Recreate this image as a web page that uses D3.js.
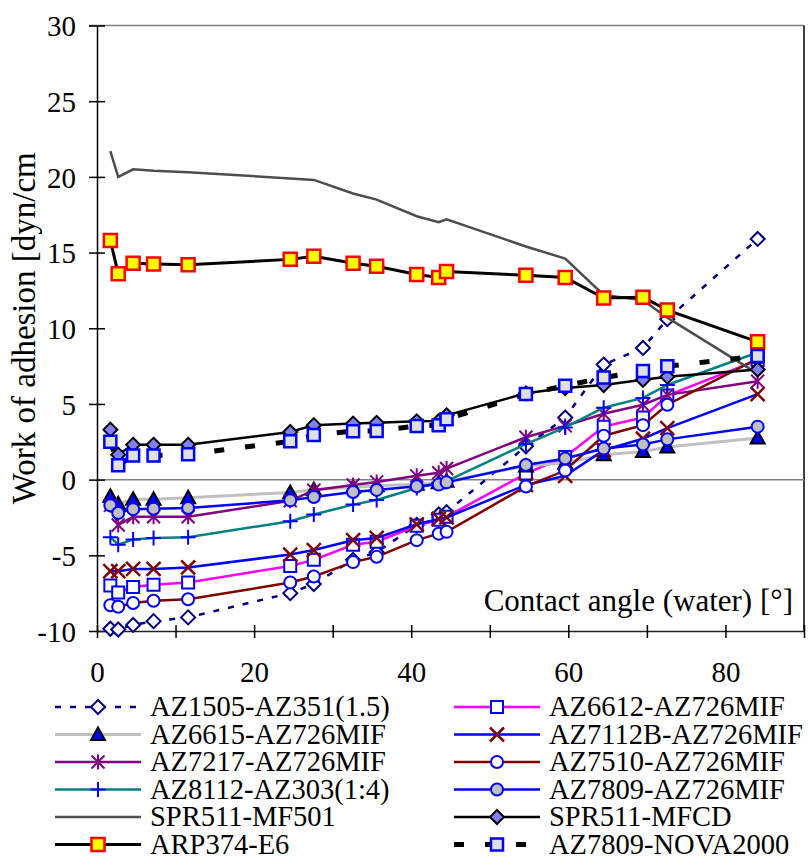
<!DOCTYPE html>
<html>
<head>
<meta charset="utf-8">
<script src="https://cdn.jsdelivr.net/npm/d3@7"></script>
<style>
body { margin: 0; background: #fff; }
svg text { font-family: "Liberation Serif", "Times New Roman", serif; fill: #000; }
</style>
</head>
<body>
<svg id="chart" width="808" height="861"></svg>
<script>
// contact angle (water) [deg], same for every series
var xValues = [1.7, 2.7, 4.6, 7.2, 11.6, 24.6, 27.6, 32.6, 35.6, 40.7, 43.5, 44.5, 54.6, 59.6, 64.5, 69.5, 72.6, 84.1];

// work of adhesion [dyn/cm]
var az1505   = [-9.85, -9.9, -9.6, -9.35, -9.1, -7.5, -6.9, -5.3, -4.8, -3.0, -2.3, -2.15, 2.2, 4.1, 7.6, 8.7, 10.6, 15.9];
var az6612   = [-7.0, -7.45, -7.1, -6.95, -6.8, -5.7, -5.3, -4.3, -4.1, -3.05, -2.65, -2.45, 0.4, 1.5, 3.5, 4.1, 5.55, 7.9];
var az6615   = [-1.1, -1.6, -1.3, -1.3, -1.2, -0.85, -0.65, -0.5, -0.4, -0.3, -0.2, -0.1, 0.9, 1.1, 1.65, 1.85, 2.15, 2.75];
var az7112b  = [-6.05, -6.05, -5.9, -5.9, -5.8, -4.95, -4.65, -4.0, -3.85, -2.95, -2.6, -2.5, -0.35, 0.25, 1.95, 2.7, 3.4, 5.65];
var az7217   = [-1.7, -3.0, -2.45, -2.45, -2.45, -1.4, -0.7, -0.35, -0.15, 0.25, 0.45, 0.73, 2.8, 3.55, 4.35, 4.95, 5.6, 6.5];
var az7510   = [-8.3, -8.4, -8.15, -8.0, -7.9, -6.8, -6.4, -5.45, -5.1, -4.0, -3.57, -3.45, -0.45, 0.6, 2.9, 3.6, 4.95, 8.0];
var az8112   = [-3.8, -4.3, -3.95, -3.85, -3.8, -2.75, -2.3, -1.65, -1.35, -0.55, -0.2, -0.1, 2.35, 3.45, 4.75, 5.4, 6.25, 8.4];
var az7809   = [-1.7, -2.2, -1.95, -1.92, -1.88, -1.37, -1.15, -0.82, -0.68, -0.44, -0.33, -0.18, 0.97, 1.39, 2.05, 2.32, 2.66, 3.5];
var spr501   = [21.7, 20.0, 20.5, 20.4, 20.3, 19.9, 19.8, 18.9, 18.5, 17.4, 17.0, 17.2, 15.4, 14.6, 12.2, 11.85, 10.7, 7.0];
var sprMfcd  = [3.3, 1.65, 2.3, 2.3, 2.3, 3.15, 3.6, 3.7, 3.75, 3.85, 3.87, 4.25, 5.7, 6.05, 6.25, 6.6, 6.8, 7.27];
var arp374   = [15.8, 13.6, 14.3, 14.25, 14.2, 14.55, 14.75, 14.3, 14.1, 13.55, 13.35, 13.75, 13.5, 13.35, 12.0, 12.05, 11.2, 9.1];
var nova2000 = [2.5, 0.95, 1.6, 1.6, 1.67, 2.53, 2.95, 3.2, 3.22, 3.54, 3.6, 3.99, 5.65, 6.2, 6.74, 7.18, 7.49, 8.16];

var seriesNames = ["AZ1505-AZ351(1.5)", "AZ6612-AZ726MIF", "AZ6615-AZ726MIF", "AZ7112B-AZ726MIF",
                   "AZ7217-AZ726MIF", "AZ7510-AZ726MIF", "AZ8112-AZ303(1:4)", "AZ7809-AZ726MIF",
                   "SPR511-MF501", "SPR511-MFCD", "ARP374-E6", "AZ7809-NOVA2000"];
var seriesValues = [az1505, az6612, az6615, az7112b, az7217, az7510, az8112, az7809, spr501, sprMfcd, arp374, nova2000];

var xTickValues = [0, 10, 20, 30, 40, 50, 60, 70, 80, 90];
var xLabelValues = [0, 20, 40, 60, 80];
var yTickValues = [-10, -5, 0, 5, 10, 15, 20, 25, 30];

// look of every series, same order as the names
var looks = [
    {line: "#000080", width: 2.5, dash: "6,9", marker: "diamond", fill: "#fff", stroke: "#000080", sw: 2},
    {line: "#FF00FF", width: 2.5, marker: "square", fill: "#fff", stroke: "#0000FF", sw: 2},
    {line: "#C0C0C0", width: 3, marker: "triangle", fill: "#0000FF", stroke: "#000", sw: 2},
    {line: "#0000FF", width: 2.5, marker: "x", fill: "none", stroke: "#800000", sw: 2.5},
    {line: "#800080", width: 2.5, marker: "asterisk", fill: "none", stroke: "#800080", sw: 2},
    {line: "#800000", width: 2.5, marker: "circle", fill: "#fff", stroke: "#0000FF", sw: 2},
    {line: "#008080", width: 2.5, marker: "plus", fill: "none", stroke: "#0000FF", sw: 2},
    {line: "#0000FF", width: 2.5, marker: "circle", fill: "#C0C0C0", stroke: "#0000FF", sw: 2},
    {line: "#4D4D4D", width: 2.5, marker: null},
    {line: "#000000", width: 2.5, marker: "diamond", fill: "#8080FF", stroke: "#000", sw: 2},
    {line: "#000000", width: 3, marker: "bigsquare", fill: "#FFFF00", stroke: "#FF0000", sw: 2.5},
    {line: "#000000", width: 5, dash: "10,21", marker: "square", fill: "#E0E0E0", stroke: "#0000FF", sw: 2.5}
];

var markerPaths = {
    diamond: "M0,-7L7,0L0,7L-7,0Z",
    square: "M-6,-6H6V6H-6Z",
    bigsquare: "M-6.5,-6.5H6.5V6.5H-6.5Z",
    triangle: "M0,-7L7,5.5L-7,5.5Z",
    x: "M-7,-7L7,7M-7,7L7,-7",
    asterisk: "M0,-7.5V7.5M-6.5,-6.5L6.5,6.5M-6.5,6.5L6.5,-6.5",
    plus: "M-7.5,0H7.5M0,-7.5V7.5",
    circle: "M6,0A6,6 0 1,1 -6,0A6,6 0 1,1 6,0Z"
};

var svg = d3.select("#chart");

var x = d3.scaleLinear().domain([0, 90]).range([97, 804]);
var y = d3.scaleLinear().domain([-10, 30]).range([631, 25.5]);

// frame: top and zero line grey, right border black
svg.append("line").attr("x1", 89).attr("x2", 804).attr("y1", y(30)).attr("y2", y(30))
    .attr("stroke", "#808080").attr("stroke-width", 1.5);
svg.append("line").attr("x1", x(90)).attr("x2", x(90)).attr("y1", y(30)).attr("y2", y(-10))
    .attr("stroke", "#000").attr("stroke-width", 1.5);
svg.append("line").attr("x1", x(0)).attr("x2", x(90)).attr("y1", y(0)).attr("y2", y(0))
    .attr("stroke", "#808080").attr("stroke-width", 1.5);

// y axis (plain hyphen for negatives, like the original)
var yAxis = svg.append("g")
    .attr("transform", "translate(" + x(0) + ",0)")
    .call(d3.axisLeft(y).tickValues(yTickValues).tickSize(8).tickSizeOuter(0).tickPadding(0)
        .tickFormat(function (d) { return String(d); }));
yAxis.attr("font-family", null).attr("font-size", null);
yAxis.select(".domain").attr("stroke", "#000").attr("stroke-width", 1.5);
yAxis.selectAll(".tick line").attr("x1", 8).attr("stroke-width", 1.5);
yAxis.selectAll(".tick text").attr("x", -21).attr("dy", "0.35em").style("font-size", "29px");

// x axis
var xAxis = svg.append("g")
    .attr("transform", "translate(0," + y(-10) + ")")
    .call(d3.axisBottom(x).tickValues(xTickValues).tickSize(7).tickSizeOuter(0)
        .tickFormat(function (d) { return xLabelValues.indexOf(d) >= 0 ? String(d) : ""; }));
xAxis.attr("font-family", null).attr("font-size", null);
xAxis.select(".domain").attr("stroke", "#222").attr("stroke-width", 1.5);
xAxis.selectAll(".tick line").attr("y1", -6).attr("stroke-width", 1.5);
xAxis.selectAll(".tick text").attr("y", 51).attr("dy", null).style("font-size", "29px");

// axis titles
svg.append("text")
    .attr("transform", "translate(35," + ((y(30) + y(-10)) / 2) + ") rotate(-90)")
    .attr("text-anchor", "middle")
    .style("font-size", "33px")
    .text("Work of adhesion [dyn/cm");

svg.append("text")
    .attr("x", 793).attr("y", 611)
    .attr("text-anchor", "end")
    .style("font-size", "31px")
    .text("Contact angle (water) [°]");

var line = d3.line()
    .x(function (d) { return x(d[0]); })
    .y(function (d) { return y(d[1]); });

// series, in legend order (later ones on top)
seriesValues.forEach(function (values, i) {
    var look = looks[i];
    var pts = values.map(function (v, j) { return [xValues[j], v]; });
    var g = svg.append("g").attr("class", "series");

    g.append("path")
        .datum(pts)
        .attr("d", line)
        .attr("fill", "none")
        .attr("stroke", look.line)
        .attr("stroke-width", look.width)
        .attr("stroke-dasharray", look.dash || null);

    if (look.marker) {
        g.selectAll(".mark")
            .data(pts)
            .enter()
            .append("path")
            .attr("class", "mark")
            .attr("transform", function (d) { return "translate(" + x(d[0]) + "," + y(d[1]) + ")"; })
            .attr("d", markerPaths[look.marker])
            .attr("fill", look.fill)
            .attr("stroke", look.stroke)
            .attr("stroke-width", look.sw);
    }
});

// legend, two columns
var legend = svg.append("g").attr("class", "legend");
seriesNames.forEach(function (name, i) {
    var look = looks[i];
    var col = i % 2, row = Math.floor(i / 2);
    var x0 = col === 0 ? 55 : 454;
    var cy = 707 + row * 27.5;
    var item = legend.append("g");

    item.append("line")
        .attr("x1", x0).attr("x2", x0 + 86)
        .attr("y1", cy).attr("y2", cy)
        .attr("stroke", look.line)
        .attr("stroke-width", look.width)
        .attr("stroke-dasharray", look.dash || null);

    if (look.marker) {
        item.append("path")
            .attr("transform", "translate(" + (x0 + 43) + "," + cy + ")")
            .attr("d", markerPaths[look.marker])
            .attr("fill", look.fill)
            .attr("stroke", look.stroke)
            .attr("stroke-width", look.sw);
    }

    item.append("text")
        .attr("x", x0 + 95)
        .attr("y", cy + 9)
        .style("font-size", "28.5px")
        .text(name);
});
</script>
</body>
</html>
